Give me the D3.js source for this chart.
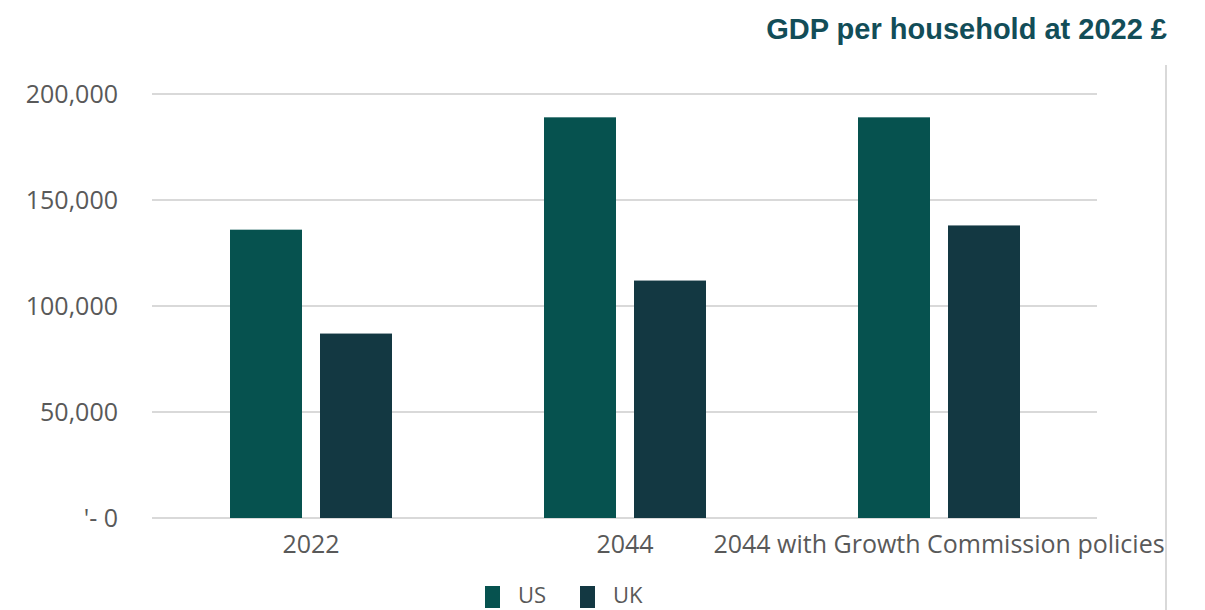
<!DOCTYPE html>
<html>
<head>
<meta charset="utf-8">
<script src="https://cdn.jsdelivr.net/npm/d3@7/dist/d3.min.js"></script>
<style>
  html, body { margin: 0; padding: 0; background: #fff; }
  svg { display: block; }
</style>
</head>
<body>
<svg id="chart" width="1205" height="610"></svg>
<script>
// GDP per household, US vs UK, in 2022 pounds
const categories = ["2022", "2044", "2044 with Growth Commission policies"];
const seriesNames = ["US", "UK"];
const usValues = [136000, 189000, 189000];
const ukValues = [87000, 112000, 138000];
const yTicks = [0, 50000, 100000, 150000, 200000];
const yTickLabels = ["'- 0", "50,000", "100,000", "150,000", "200,000"];
const colors = ["#06524f", "#133842"];

const svg = d3.select("#chart");
const W = 1205, H = 610;
const margin = { left: 155, right: 108, top: 94, bottom: 92 };
const plotRight = W - margin.right;   // 1097
const plotBottom = H - margin.bottom; // 518

const x = d3.scaleBand().domain(categories).range([margin.left - 1, plotRight - 1]).paddingInner(0).paddingOuter(0);
const inner = d3.scaleBand().domain(seriesNames).range([-81, 81]).paddingInner(0.2);
const y = d3.scaleLinear().domain([0, 200000]).range([plotBottom, margin.top]);

const font = "'Open Sans', 'DejaVu Sans', sans-serif";

// Horizontal gridlines
svg.append("g")
  .selectAll("line")
  .data(yTicks)
  .join("line")
  .attr("x1", margin.left - 3)
  .attr("x2", plotRight)
  .attr("y1", d => y(d))
  .attr("y2", d => y(d))
  .attr("stroke", "#d9d9d9")
  .attr("stroke-width", 2);

// Right frame line
svg.append("line")
  .attr("x1", 1166).attr("x2", 1166)
  .attr("y1", 65).attr("y2", H)
  .attr("stroke", "#d9d9d9").attr("stroke-width", 2);

// Y axis labels
const yAxis = d3.axisLeft(y).tickValues(yTicks)
  .tickFormat((d, i) => yTickLabels[i]).tickSize(0).tickPadding(0);
const gy = svg.append("g").attr("transform", `translate(118,0)`).call(yAxis);
gy.select(".domain").remove();
gy.selectAll("text")
  .attr("font-family", font)
  .attr("font-size", 25)
  .attr("fill", "#595959")
  .attr("dy", "0.34em");

// Bars
const series = [usValues, ukValues];
const groups = svg.append("g");
seriesNames.forEach((name, si) => {
  groups.append("g")
    .selectAll("rect")
    .data(categories.map((c, i) => ({ c, v: series[si][i] })))
    .join("rect")
    .attr("x", d => x(d.c) + x.bandwidth() / 2 + inner(name))
    .attr("y", d => y(d.v))
    .attr("width", inner.bandwidth())
    .attr("height", d => y(0) - y(d.v))
    .attr("fill", colors[si]);
});

// Category axis labels
const xAxis = d3.axisBottom(x).tickSize(0).tickPadding(0);
const gx = svg.append("g").attr("transform", `translate(0,${plotBottom})`).call(xAxis);
gx.select(".domain").remove();
gx.selectAll("text")
  .attr("font-family", font)
  .attr("font-size", 25)
  .attr("fill", "#595959")
  .attr("dy", 0)
  .attr("y", 35);

// Title
svg.append("text")
  .attr("x", 1167).attr("y", 39)
  .attr("text-anchor", "end")
  .attr("font-family", "'Liberation Sans', Arial, sans-serif")
  .attr("font-weight", "bold")
  .attr("font-size", 29)
  .attr("fill", "#124d58")
  .text("GDP per household at 2022 £");

// Legend
const legend = svg.append("g");
const legendX = [485, 580];
seriesNames.forEach((name, i) => {
  legend.append("rect")
    .attr("x", legendX[i]).attr("y", 586)
    .attr("width", 15).attr("height", 22)
    .attr("fill", colors[i]);
  legend.append("text")
    .attr("x", legendX[i] + 33).attr("y", 603)
    .attr("font-family", font)
    .attr("font-size", 22)
    .attr("fill", "#595959")
    .text(name);
});
</script>
</body>
</html>
